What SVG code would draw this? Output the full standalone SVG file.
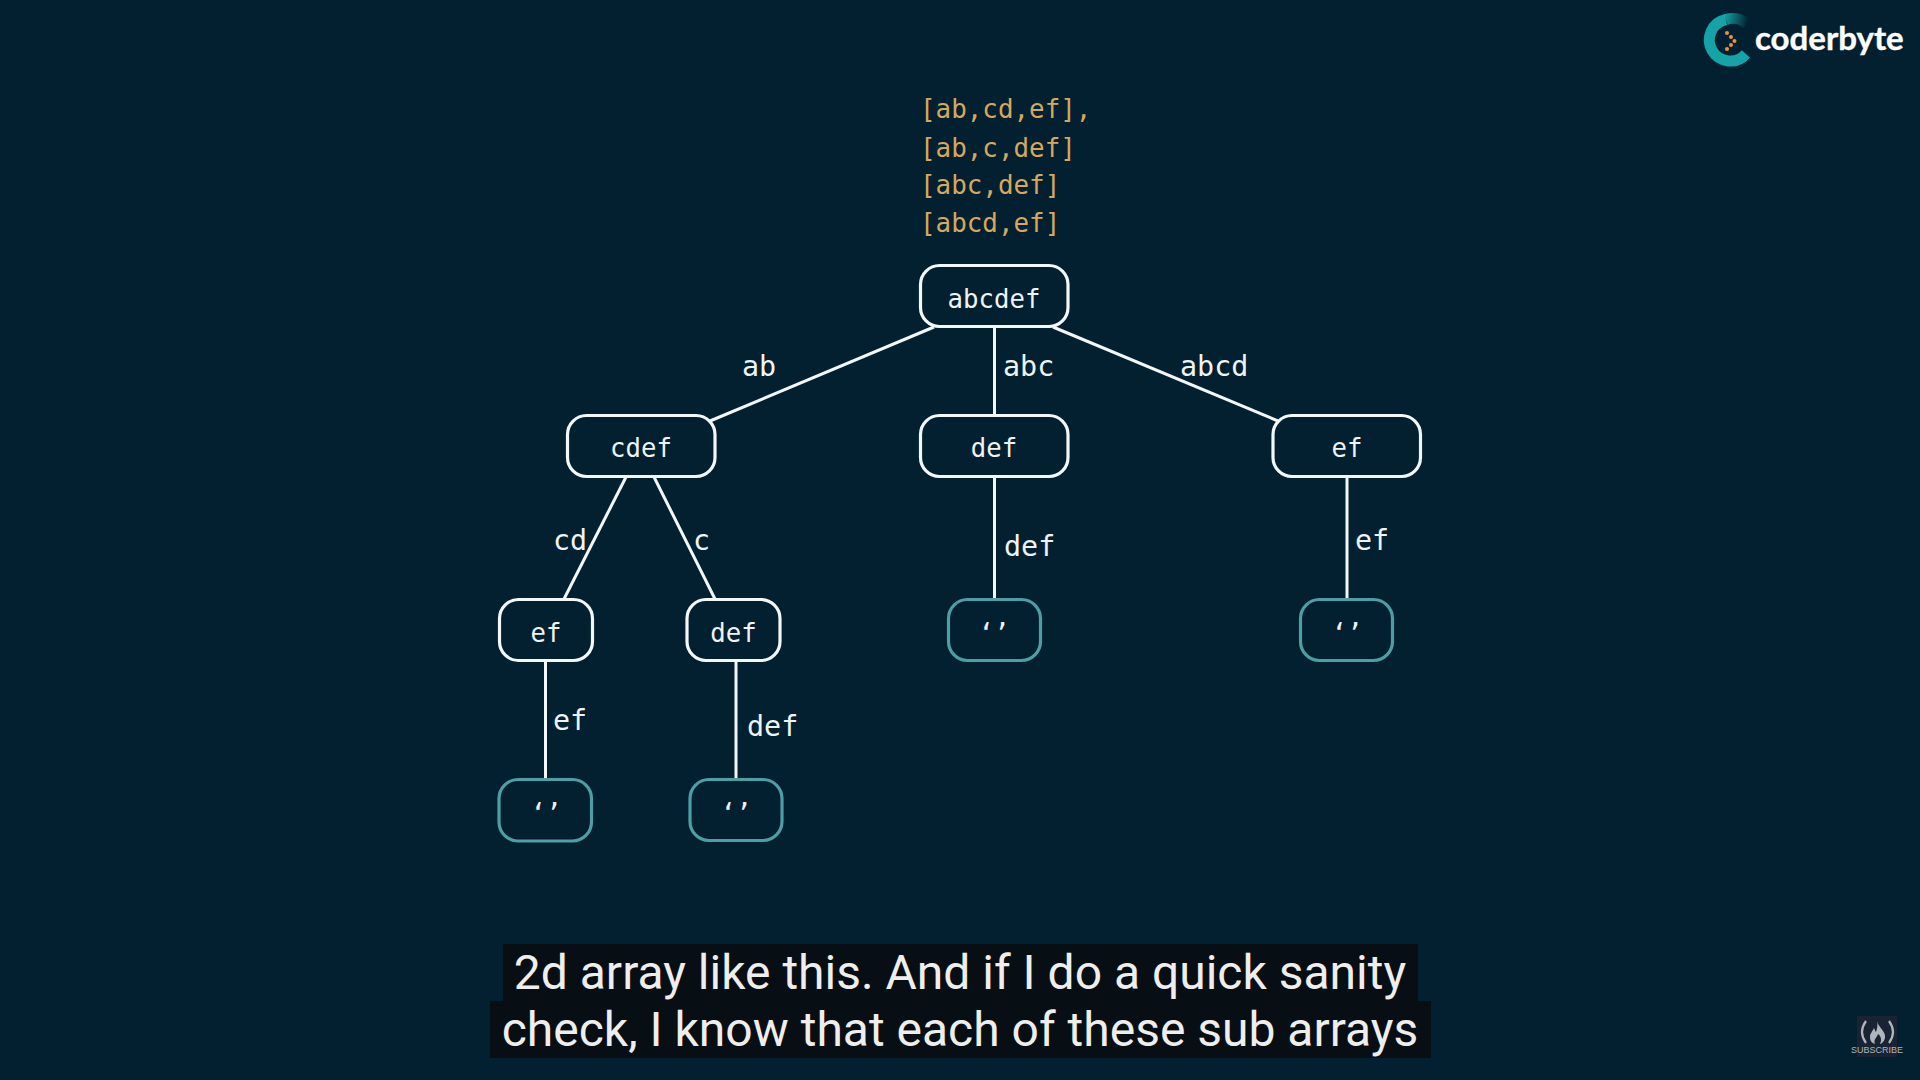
<svg xmlns="http://www.w3.org/2000/svg" width="1920" height="1080" viewBox="0 0 1920 1080">
<style>
.n rect{fill:none;stroke:#f2f7f8;stroke-width:3.2}
.n.t rect{stroke:#4f9ea6}
.l,.n text,.y{font-family:"DejaVu Sans Mono","Liberation Mono",monospace}
.n text{font-size:25.7px;fill:#eef4f6;text-anchor:middle}
.l{font-size:28.4px;fill:#eef4f6}
.y{font-size:25.9px;fill:#d4a860}
.c line{stroke:#f2f7f8;stroke-width:3}
.cap{font-family:Roboto,"Liberation Sans",sans-serif;font-size:48px;fill:#eeeeec;text-anchor:middle}
</style>
<defs>
<linearGradient id="arc" gradientUnits="userSpaceOnUse" x1="1748" y1="22" x2="1724" y2="17">
<stop offset="0" stop-color="#16a3a8" stop-opacity="0"/><stop offset="1" stop-color="#16a3a8"/>
</linearGradient>
</defs>
<rect id="background" width="1920" height="1080" fill="#02202f"/>
<g id="connectors" class="c">
<line x1="934" y1="327" x2="710" y2="421"/>
<line x1="994.500" y1="327" x2="994.500" y2="415"/>
<line x1="1053" y1="327" x2="1278" y2="421"/>
<line x1="626" y1="477" x2="564" y2="599"/>
<line x1="654" y1="477" x2="715" y2="599"/>
<line x1="994.500" y1="477" x2="994.500" y2="599"/>
<line x1="1347" y1="477" x2="1347" y2="599"/>
<line x1="545.500" y1="661" x2="545.500" y2="779"/>
<line x1="736" y1="661" x2="736" y2="779"/>
</g>
<g id="edge-labels" class="l">
<text x="742" y="376">ab</text>
<text x="1003" y="376">abc</text>
<text x="1180" y="376">abcd</text>
<text x="553" y="550">cd</text>
<text x="693" y="550">c</text>
<text x="1004" y="556">def</text>
<text x="1355" y="550">ef</text>
<text x="553" y="730">ef</text>
<text x="747" y="736">def</text>
</g>
<g id="result" class="y">
<text x="920" y="118">[ab,cd,ef],</text>
<text x="920" y="157">[ab,c,def]</text>
<text x="920" y="194">[abc,def]</text>
<text x="920" y="232">[abcd,ef]</text>
</g>
<g id="n-abcdef" class="n"><rect x="920.500" y="265.500" width="147.500" height="61" rx="19"/><text x="994" y="308">abcdef</text></g>
<g id="n-cdef" class="n"><rect x="567.500" y="415.500" width="147.500" height="61" rx="19"/><text x="641" y="457">cdef</text></g>
<g id="n-def" class="n"><rect x="920.500" y="415.500" width="147.500" height="61" rx="19"/><text x="994" y="457">def</text></g>
<g id="n-ef" class="n"><rect x="1273" y="415.500" width="147.500" height="61" rx="19"/><text x="1347" y="457">ef</text></g>
<g id="n-ef2" class="n"><rect x="499.500" y="599.500" width="93" height="61" rx="19"/><text x="546" y="642">ef</text></g>
<g id="n-def2" class="n"><rect x="687" y="599.500" width="93" height="61" rx="19"/><text x="733.500" y="642">def</text></g>
<g id="n-empty1" class="n t"><rect x="948.500" y="599.500" width="92" height="61" rx="19"/><text x="994" y="642">‘’</text></g>
<g id="n-empty2" class="n t"><rect x="1300.500" y="599.500" width="92" height="61" rx="19"/><text x="1347" y="642">‘’</text></g>
<g id="n-empty3" class="n t"><rect x="499" y="779.500" width="92.500" height="61.500" rx="19"/><text x="546" y="822">‘’</text></g>
<g id="n-empty4" class="n t"><rect x="690" y="779.500" width="92" height="61" rx="19"/><text x="736" y="822">‘’</text></g>
<g id="logo">
<path d="M1746 54A21 21 0 1 1 1726 19.500" fill="none" stroke="#16a3a8" stroke-width="11"/>
<path d="M1726 19.500A21 21 0 0 1 1747 24" fill="none" stroke="url(#arc)" stroke-width="11"/>
<g fill="#e8953a"><circle cx="1727" cy="33" r="2"/><circle cx="1731" cy="37" r="2"/><circle cx="1734.500" cy="41" r="2"/><circle cx="1731" cy="45" r="2"/><circle cx="1727" cy="49" r="2"/></g>
<text x="1755" y="50" font-family="Lato,'Open Sans',sans-serif" font-weight="700" font-size="33px" fill="#ffffff" stroke="#ffffff" stroke-width="0.4">coderbyte</text>
</g>
<g id="caption">
<rect x="503" y="944" width="915" height="57" fill="#080f14"/>
<rect x="490" y="1001" width="941" height="57" fill="#080f14"/>
<text class="cap" x="960" y="989">2d array like this. And if I do a quick sanity</text>
<text class="cap" x="960" y="1046">check, I know that each of these sub arrays</text>
</g>
<g id="subscribe">
<rect x="1857" y="1016" width="40" height="41" fill="#1a2333"/>
<path d="M1866 1021Q1858 1032 1866 1043M1889 1021Q1897 1032 1889 1043" fill="none" stroke="#aeb6bc" stroke-width="2.200"/>
<path d="M1877 1021C1878 1027 1886 1031 1885 1038C1884 1042 1881 1044 1880 1044C1882 1040 1881 1036 1878 1034C1877 1038 1873 1039 1875 1044C1872 1043 1870 1041 1870 1037C1870 1033 1873 1031 1874 1028C1875 1030 1875 1031 1876 1032C1877 1029 1878 1025 1877 1021Z" fill="#aeb6bc"/>
<text x="1877" y="1053" text-anchor="middle" font-family="'Liberation Sans',sans-serif" font-size="9px" fill="#aeb6bc">SUBSCRIBE</text>
</g>
</svg>
